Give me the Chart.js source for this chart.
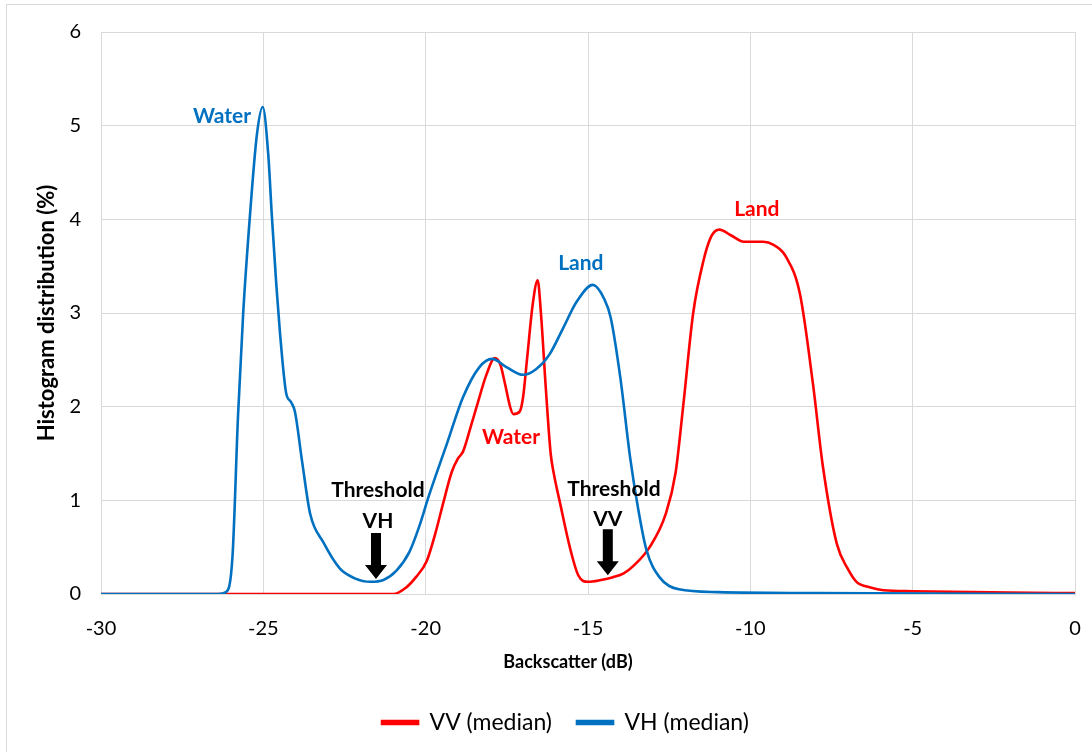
<!DOCTYPE html>
<html>
<head>
<meta charset="utf-8">
<script src="https://cdn.jsdelivr.net/npm/chart.js@4/dist/chart.umd.min.js"></script>
<style>
  html, body { margin: 0; padding: 0; background: #fff; }
  #wrap { position: relative; width: 1092px; height: 752px; }
  #frame { position: absolute; left: 6px; top: 4px; right: -10px; bottom: -10px; border: 1px solid #d9d9d9; }
  canvas { position: absolute; left: 0; top: 0; }
</style>
</head>
<body>
<div id="wrap">
  <div id="frame"></div>
  <canvas id="histChart" width="1092" height="752"></canvas>
</div>
<script>
// Backscatter (dB) -> histogram share (%)
const vvX = [-30, -21, -20.6, -20.3, -19.97, -19.7, -19.46, -19.2, -19.0, -18.85, -18.6, -18.43, -18.12, -17.87, -17.7, -17.56, -17.4, -17.3, -17.1, -17.0, -16.88, -16.7, -16.55, -16.45, -16.3, -16.15, -16.05, -15.86, -15.56, -15.3, -15.0, -14.6, -14.23, -13.9, -13.6, -13.1, -12.6, -12.3, -12.07, -11.76, -11.45, -11.2, -10.95, -10.6, -10.2, -9.6, -9.3, -8.9, -8.47, -8.07, -7.76, -7.34, -7.0, -6.73, -6.3, -5.9, -5, -2, 0];
const vvY = [0, 0, 0.07, 0.18, 0.35, 0.65, 0.97, 1.3, 1.45, 1.52, 1.8, 2.0, 2.35, 2.52, 2.45, 2.25, 2.0, 1.92, 1.95, 2.1, 2.5, 3.1, 3.35, 3.0, 2.2, 1.5, 1.28, 0.97, 0.5, 0.2, 0.13, 0.15, 0.18, 0.22, 0.3, 0.5, 0.86, 1.3, 2.0, 3.0, 3.55, 3.82, 3.89, 3.83, 3.76, 3.76, 3.73, 3.6, 3.2, 2.24, 1.35, 0.54, 0.27, 0.13, 0.07, 0.04, 0.03, 0.015, 0.01];

const vhX = [-30, -26.4, -26.15, -25.95, -25.78, -25.62, -25.41, -25.2, -25.02, -24.85, -24.74, -24.6, -24.49, -24.3, -24.15, -24.03, -23.8, -23.56, -23.15, -22.64, -22.2, -21.7, -21.3, -20.9, -20.5, -20.2, -19.9, -19.35, -18.85, -18.35, -17.95, -17.5, -17.0, -16.6, -16.2, -15.75, -15.35, -14.85, -14.5, -14.3, -14.0, -13.7, -13.45, -13.2, -12.8, -12.2, -11, -8, 0];
const vhY = [0, 0, 0.02, 0.4, 1.9, 3.0, 4.05, 4.9, 5.2, 4.7, 4.05, 3.3, 2.8, 2.15, 2.05, 1.95, 1.4, 0.86, 0.55, 0.27, 0.17, 0.13, 0.15, 0.25, 0.45, 0.72, 1.05, 1.6, 2.1, 2.42, 2.51, 2.42, 2.34, 2.4, 2.55, 2.85, 3.12, 3.3, 3.15, 2.95, 2.3, 1.45, 0.9, 0.47, 0.18, 0.05, 0.02, 0.01, 0];

const xTicks = [-30, -25, -20, -15, -10, -5, 0];
const yTicks = [0, 1, 2, 3, 4, 5, 6];
const xTitle = 'Backscatter (dB)';

// in-plot labels: text, colour, x (dB), y (%)
const noteText  = ['Water', 'Land', 'Water', 'Land', 'Threshold', 'VH', 'Threshold', 'VV'];
const noteColor = ['#0070C0', '#0070C0', '#FF0000', '#FF0000', '#000', '#000', '#000', '#000'];
const noteX     = [-26.27, -15.22, -17.37, -9.80, -21.47, -21.47, -14.20, -14.39];
const noteY     = [5.10, 3.53, 1.67, 4.11, 1.11, 0.78, 1.12, 0.80];

// threshold arrows: x (dB), from y, to y (%)
const arrowX    = [-21.53, -14.39];
const arrowFrom = [0.65, 0.69];
const arrowTo   = [0.16, 0.20];

const toPoints = (xs, ys) => xs.map((x, i) => ({ x: x, y: ys[i] }));

const notesPlugin = {
  id: 'notes',
  afterLayout(chart) {
    // Excel centres the legend a bit right of the canvas middle
    chart.legend.left += 28;
    chart.legend.right += 28;
  },
  afterDatasetsDraw(chart) {
    const { ctx, scales: { x, y } } = chart;
    ctx.save();
    ctx.font = 'bold 21px Lato';
    ctx.textAlign = 'center';
    ctx.textBaseline = 'middle';
    noteText.forEach((t, i) => {
      ctx.fillStyle = noteColor[i];
      ctx.fillText(t, x.getPixelForValue(noteX[i]), y.getPixelForValue(noteY[i]));
    });
    // arrows
    ctx.fillStyle = '#000';
    arrowX.forEach((ax, i) => {
      const px = x.getPixelForValue(ax);
      const top = y.getPixelForValue(arrowFrom[i]);
      const tip = y.getPixelForValue(arrowTo[i]);
      const headH = 14;
      ctx.beginPath();
      ctx.moveTo(px - 5, top);
      ctx.lineTo(px + 5, top);
      ctx.lineTo(px + 5, tip - headH);
      ctx.lineTo(px + 11, tip - headH);
      ctx.lineTo(px, tip);
      ctx.lineTo(px - 11, tip - headH);
      ctx.lineTo(px - 5, tip - headH);
      ctx.closePath();
      ctx.fill();
    });
    // x axis title, centred on the whole chart like Excel does
    ctx.fillStyle = '#000';
    ctx.font = 'bold 18px Lato';
    ctx.fillText(xTitle, 568, x.bottom - 24);
    ctx.restore();
  }
};

const ctx = document.getElementById('histChart').getContext('2d');
new Chart(ctx, {
  type: 'line',
  data: {
    datasets: [
      {
        label: 'VV (median)',
        data: toPoints(vvX, vvY),
        borderColor: '#FF0000',
        backgroundColor: '#FF0000',
        borderWidth: 2.6,
        pointRadius: 0,
        cubicInterpolationMode: 'monotone',
        order: 2
      },
      {
        label: 'VH (median)',
        data: toPoints(vhX, vhY),
        borderColor: '#0070C0',
        backgroundColor: '#0070C0',
        borderWidth: 2.6,
        pointRadius: 0,
        cubicInterpolationMode: 'monotone',
        order: 1
      }
    ]
  },
  options: {
    responsive: false,
    animation: false,
    layout: { padding: { left: 0, right: 17, top: 30, bottom: 8 } },
    plugins: {
      tooltip: { enabled: false },
      legend: {
        position: 'bottom',
        labels: {
          font: { family: 'Lato', size: 23 },
          color: '#000',
          boxWidth: 36,
          boxHeight: 3,
          padding: 25,
          sort: (a, b) => a.datasetIndex - b.datasetIndex
        }
      }
    },
    scales: {
      x: {
        type: 'linear',
        min: -30,
        max: 0,
        afterBuildTicks: s => { s.ticks = xTicks.map(v => ({ value: v })); },
        grid: { color: '#d9d9d9', drawTicks: false },
        border: { color: '#d9d9d9' },
        ticks: { font: { family: 'Lato', size: 20 }, color: '#000', padding: 23 },
        afterFit: s => { s.height = 92; s.paddingLeft = 0; s.paddingRight = 0; }
      },
      y: {
        type: 'linear',
        min: 0,
        max: 6,
        afterBuildTicks: s => { s.ticks = yTicks.map(v => ({ value: v })); },
        grid: { color: '#d9d9d9', drawTicks: false },
        border: { color: '#d9d9d9' },
        ticks: { font: { family: 'Lato', size: 20 }, color: '#000', padding: 20 },
        title: {
          display: true,
          text: 'Histogram distribution (%)',
          font: { family: 'Lato', size: 22, weight: 'bold' },
          color: '#000',
          padding: { top: 34 }
        },
        afterFit: s => { s.width = 101; }
      }
    }
  },
  plugins: [notesPlugin]
});
</script>
</body>
</html>
